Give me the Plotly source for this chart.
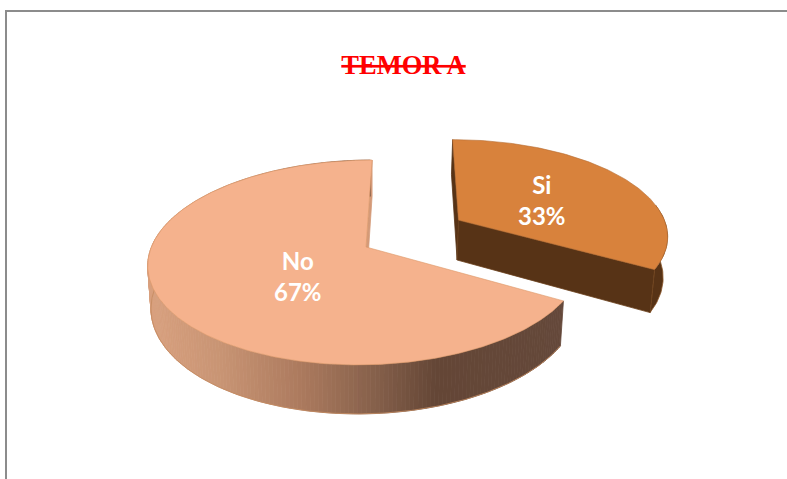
import numpy as np
import plotly.graph_objects as go

# Data
categories = ["Si", "No"]
values = [33.3, 66.7]
label_text = ["Si<br>33%", "No<br>67%"]
title_text = "TEMOR A"
top_colors = ["#D8823C", "#F5B28D"]
edge_colors = ["#B56C30", "#DE9868"]
wall_color_si = "#573316"
wall_start_no = "#D49A78"
# Side-wall shading of the large slice (screen x -> colour)
shade_x = [150, 220, 300, 370, 436, 560]
shade_r = [216, 200, 172, 136, 100, 100]
shade_g = [160, 148, 122, 98, 70, 72]
shade_b = [126, 116, 94, 76, 54, 58]

# Projection of the 3-D pie onto the flat page
W, H = 787, 479
APEX = (366, 247)
K, AX, AY, DEPTH, SHEAR, SHRINK = 0.151, 214.6, 100.1, 41.6, -0.07, 0.015
FIRST_ANGLE = 0.0
EXPLODE_X, EXPLODE_Y = 0.44, 0.28


def project(X, Y, drop=0.0):
    X, Y = np.asarray(X, float), np.asarray(Y, float)
    w = 1 + K * Y
    dy = -AY * Y / w
    return (APEX[0] + AX * X / w * (1 - SHRINK * drop) + SHEAR * dy,
            APEX[1] + dy + DEPTH * drop / w)


def rim(a0, a1, cx=0.0, cy=0.0, n=120):
    t = np.radians(np.linspace(a0, a1, n))
    return cx + np.sin(t), cy + np.cos(t)


def poly(xs, ys, fill, line=None, lw=0.6):
    return go.Scatter(
        x=list(xs), y=list(ys), mode="lines", fill="toself", fillcolor=fill,
        line=dict(color=line or fill, width=lw), hoverinfo="skip", showlegend=False,
    )


def wall(X, Y, fill, line=None):
    x1, y1 = project(X, Y)
    x2, y2 = project(X[::-1], Y[::-1], 1.0)
    return poly(np.r_[x1, x2, x1[0]], np.r_[y1, y2, y1[0]], fill, line, 0.8)


total = sum(values)
sweep_si = 360 * values[0] / total
a0, a1 = FIRST_ANGLE, FIRST_ANGLE + sweep_si
mid_si = np.radians((a0 + a1) / 2)
ex, ey = EXPLODE_X, EXPLODE_Y

fig = go.Figure()

# Exploded slice: walls, then top
sx, sy = rim(a0, a1, ex, ey)
fig.add_trace(wall(np.array([ex, sx[0]]), np.array([ey, sy[0]]), wall_color_si))
fig.add_trace(wall(sx[-40:], sy[-40:], wall_color_si, "#8A5528"))
fig.add_trace(wall(np.array([ex, sx[-1]]), np.array([ey, sy[-1]]), wall_color_si, "#6B401C"))
px, py = project(np.r_[ex, sx, ex], np.r_[ey, sy, ey])
fig.add_trace(poly(px, py, top_colors[0], edge_colors[0]))

# Large slice: walls, then top
nx, ny = rim(a1, a0 + 360, n=480)
fig.add_trace(wall(np.array([0.0, nx[-1]]), np.array([0.0, ny[-1]]), wall_start_no))
step = 2
for i in range(0, len(nx) - step, step):
    X, Y = nx[i:i + step + 1], ny[i:i + step + 1]
    mx = project(X, Y)[0].mean()
    col = "rgb({:.0f},{:.0f},{:.0f})".format(
        np.interp(mx, shade_x, shade_r),
        np.interp(mx, shade_x, shade_g),
        np.interp(mx, shade_x, shade_b),
    )
    fig.add_trace(wall(X, Y, col))
keep = ny < 0.15
bx, by = project(nx[keep], ny[keep], 1.0)
fig.add_trace(go.Scatter(x=bx, y=by, mode="lines",
                         line=dict(color="#C48A60", width=0.8),
                         hoverinfo="skip", showlegend=False))
px, py = project(np.r_[0.0, nx, 0.0], np.r_[0.0, ny, 0.0])
fig.add_trace(poly(px, py, top_colors[1], edge_colors[1]))

# Slice labels
label_font = dict(family="Lato", size=24, color="white", weight="bold")
lx, ly = project([ex + 0.5 * np.sin(mid_si)], [ey + 0.5 * np.cos(mid_si)])
fig.add_annotation(x=lx[0], y=ly[0], text=label_text[0], showarrow=False, xshift=-1, yshift=-2,
                   font=label_font)
mid_no = np.radians((a1 + a0 + 360) / 2)
lx, ly = project([0.33 * np.sin(mid_no)], [0.33 * np.cos(mid_no)])
fig.add_annotation(x=lx[0], y=ly[0], text=label_text[1], showarrow=False, xshift=-4, yshift=-12,
                   font=label_font)

# Frame (top and left edges visible)
frame = dict(type="line", xref="paper", yref="paper", line=dict(color="#8C8C8C", width=2))
fig.add_shape(x0=5 / W, x1=1, y0=1 - 11 / H, y1=1 - 11 / H, **frame)
fig.add_shape(x0=6 / W, x1=6 / W, y0=0, y1=1 - 10 / H, **frame)

fig.update_layout(
    width=W, height=H, margin=dict(l=0, r=0, t=0, b=0),
    paper_bgcolor="white", plot_bgcolor="white", showlegend=False,
    title=dict(
        text=title_text, x=403.5 / W, y=1 - 65 / H, xanchor="center", yanchor="middle",
        xref="paper", yref="paper",
        font=dict(family="Liberation Serif", size=26.5, color="#FF0000", weight="bold",
                  lineposition="through"),
    ),
    xaxis=dict(range=[0, W], visible=False, fixedrange=True),
    yaxis=dict(range=[H, 0], visible=False, fixedrange=True),
)
fig.write_html("out.html", config=dict(displayModeBar=False),
               post_script="document.body.style.margin='0';document.body.style.overflow='hidden';")
